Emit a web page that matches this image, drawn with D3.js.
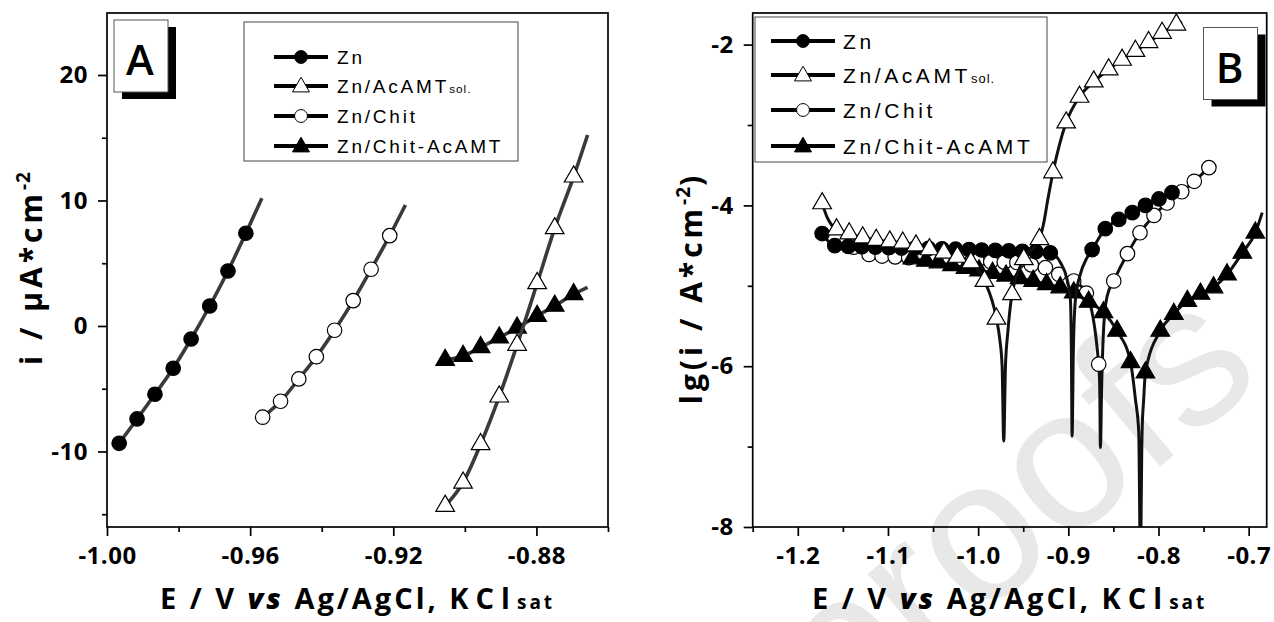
<!DOCTYPE html>
<html>
<head>
<meta charset="utf-8">
<script src="https://cdn.jsdelivr.net/npm/d3@7"></script>
<style>
  body { margin: 0; background: #fff; }
  svg { display: block; }
</style>
</head>
<body>
<svg id="chart" width="1274" height="622"></svg>
<script>
// ---------- Panel A: linear polarisation near Ecorr (E / V, i / µA cm-2) ----------
const znMarksA   = [[-0.9966,-9.35],[-0.9916,-7.41],[-0.9866,-5.44],[-0.9815,-3.37],[-0.9765,-1.04],[-0.9713,1.59],[-0.9662,4.38],[-0.9612,7.39]];
const znTraceA   = [[-0.9567,10.18]];
const solMarksA  = [[-0.9055,-14.34],[-0.9005,-12.49],[-0.8956,-9.43],[-0.8904,-5.63],[-0.8854,-1.51],[-0.8798,3.40],[-0.8749,7.78],[-0.8696,11.90]];
const solTraceA  = [[-0.8657,15.22]];
const chitMarksA = [[-0.9565,-7.27],[-0.9515,-6.00],[-0.9464,-4.22],[-0.9415,-2.45],[-0.9364,-0.34],[-0.9312,2.02],[-0.9262,4.52],[-0.9210,7.20]];
const chitTraceA = [[-0.9166,9.64]];
const caMarksA   = [[-0.9055,-2.71],[-0.9005,-2.39],[-0.8956,-1.70],[-0.8904,-0.93],[-0.8854,-0.14],[-0.8798,0.80],[-0.8749,1.60],[-0.8696,2.53]];
const caTraceA   = [[-0.8657,3.08]];

// ---------- Panel B: Tafel plots (E / V, lg(i / A cm-2)) ----------
const znMarksB = [[-1.173,-4.35],[-1.159,-4.50],[-1.144,-4.51],[-1.129,-4.515],[-1.114,-4.52],[-1.099,-4.525],[-1.085,-4.53],[-1.070,-4.53],[-1.055,-4.535],[-1.040,-4.54],[-1.025,-4.545],[-1.010,-4.55],[-0.996,-4.555],[-0.981,-4.56],[-0.966,-4.565],[-0.951,-4.57],[-0.936,-4.575],[-0.920,-4.59],
  [-0.8736,-4.55],[-0.859,-4.29],[-0.844,-4.175],[-0.829,-4.09],[-0.8145,-4.00],[-0.7995,-3.92],[-0.785,-3.84]];
const znTraceB = [[-0.9088,-4.71],[-0.9014,-4.92],[-0.8977,-5.17],[-0.8966,-5.79],[-0.8958,-6.87],[-0.8944,-5.79],[-0.8921,-5.17],[-0.8873,-4.88],[-0.8792,-4.65],[-0.782,-3.82]];
const solMarksB = [[-1.173,-3.975],[-1.157,-4.30],[-1.143,-4.35],[-1.128,-4.40],[-1.113,-4.43],[-1.098,-4.45],[-1.0836,-4.465],[-1.069,-4.50],[-1.054,-4.547],[-1.038,-4.59],[-1.023,-4.64],[-1.008,-4.71],[-0.993,-4.94],[-0.9797,-5.41],
  [-0.9624,-5.106],[-0.9494,-4.67],[-0.932,-4.42],[-0.917,-3.59],[-0.9024,-2.97],[-0.8876,-2.65],[-0.8718,-2.46],[-0.8552,-2.31],[-0.8404,-2.19],[-0.8256,-2.08],[-0.811,-1.97],[-0.796,-1.855],[-0.7802,-1.752]];
const solTraceB = [[-1.1674,-4.15],[-0.976,-5.665],[-0.9734,-6.00],[-0.9716,-6.93],[-0.9697,-6.00],[-0.9671,-5.58],[-0.9272,-4.215],[-0.9228,-3.93],[-0.7739,-1.72]];
const chitMarksB = [[-1.138,-4.52],[-1.121,-4.61],[-1.1065,-4.63],[-1.092,-4.64],[-1.077,-4.65],[-1.062,-4.655],[-1.047,-4.66],[-1.032,-4.665],[-1.017,-4.675],[-1.001,-4.69],[-0.986,-4.70],[-0.971,-4.705],[-0.957,-4.71],[-0.941,-4.74],[-0.9254,-4.775],[-0.9106,-4.857],[-0.894,-4.94],[-0.880,-5.09],[-0.8663,-5.975],
  [-0.8496,-4.94],[-0.8344,-4.60],[-0.8205,-4.34],[-0.805,-4.125],[-0.7905,-3.97],[-0.7742,-3.83],[-0.7603,-3.70],[-0.7441,-3.53]];
const chitTraceB = [[-0.8652,-6.24],[-0.8644,-7.01],[-0.8630,-6.24],[-0.8607,-5.50],[-0.8570,-5.13]];
const caMarksB = [[-1.073,-4.66],[-1.058,-4.69],[-1.044,-4.71],[-1.029,-4.745],[-1.014,-4.78],[-0.999,-4.81],[-0.984,-4.84],[-0.969,-4.875],[-0.954,-4.905],[-0.939,-4.94],[-0.924,-4.98],[-0.909,-5.02],[-0.894,-5.085],[-0.8775,-5.20],[-0.861,-5.33],[-0.846,-5.56],[-0.831,-5.95],
  [-0.8145,-6.08],[-0.798,-5.56],[-0.783,-5.35],[-0.768,-5.19],[-0.7535,-5.10],[-0.739,-5.02],[-0.724,-4.86],[-0.707,-4.59],[-0.6926,-4.34]];
const caTraceB = [[-0.8256,-6.41],[-0.8219,-6.82],[-0.8201,-8.40],[-0.8182,-6.82],[-0.8164,-6.41],[-0.685,-4.09]];

// ---------- axes ----------
const xTicksA = [-1.00, -0.96, -0.92, -0.88];
const xMinorA = [-0.98, -0.94, -0.90, -0.86];
const yTicksA = [-10, 0, 10, 20];
const yMinorA = [-15, -5, 5, 15];
const xTicksB = [-1.2, -1.1, -1.0, -0.9, -0.8, -0.7];
const xMinorB = [-1.25, -1.15, -1.05, -0.95, -0.85, -0.75];
const yTicksB = [-8, -6, -4, -2];
const yMinorB = [-7, -5, -3];

const seriesNames = ["Zn", "Zn/AcAMT", "Zn/Chit", "Zn/Chit-AcAMT"];

const svg = d3.select("#chart");
const TICK_FONT = "'Open Sans', 'DejaVu Sans', sans-serif";
const LEG_FONT = "'Liberation Sans', Arial, sans-serif";

const symCircle = d3.symbol().type(d3.symbolCircle).size(165);
const symTri = d3.symbol().type(d3.symbolTriangle).size(150);
const legCircle = d3.symbol().type(d3.symbolCircle).size(130);
const legTri = d3.symbol().type(d3.symbolTriangle).size(125);

const styles = {
  "Zn":            { shape: "circle", fill: "#000" },
  "Zn/AcAMT":      { shape: "tri",    fill: "#fff" },
  "Zn/Chit":       { shape: "circle", fill: "#fff" },
  "Zn/Chit-AcAMT": { shape: "tri",    fill: "#000" }
};

// light watermark lettering behind panel B
svg.append("text")
  .attr("transform", "translate(840,735) rotate(-40)")
  .attr("font-family", LEG_FONT)
  .attr("font-size", 200)
  .attr("fill", "#e8e8e8")
  .text("proofs");

function drawPanel(p) {
  const g = svg.append("g");
  const x = d3.scaleLinear().domain(p.xDomain).range([p.left, p.right]);
  const y = d3.scaleLinear().domain(p.yDomain).range([p.bottom, p.top]);

  const clipId = "clip" + p.id;
  svg.append("defs").append("clipPath").attr("id", clipId)
    .append("rect").attr("x", p.left).attr("y", p.top)
    .attr("width", p.right - p.left).attr("height", p.bottom - p.top);

  // label box with shadow
  g.append("rect").attr("x", p.box[0] + 8).attr("y", p.box[1] + 7)
    .attr("width", 54).attr("height", 72).attr("fill", "#000");
  g.append("rect").attr("x", p.box[0]).attr("y", p.box[1])
    .attr("width", 54).attr("height", 72).attr("fill", "#fff")
    .attr("stroke", "#555").attr("stroke-width", 1);
  g.append("text").attr("x", p.box[0] + 26).attr("y", p.box[1] + 55)
    .attr("text-anchor", "middle").attr("font-family", TICK_FONT)
    .attr("font-weight", 600).attr("font-size", 42).text(p.id);

  // legend
  const L = p.legend;
  g.append("rect").attr("x", L.x).attr("y", L.y).attr("width", L.w).attr("height", L.h)
    .attr("fill", "#fff").attr("stroke", "#444").attr("stroke-width", 1);
  seriesNames.forEach((name, i) => {
    const ry = L.rows[i];
    const st = styles[name];
    g.append("line").attr("x1", L.l1).attr("x2", L.l2).attr("y1", ry).attr("y2", ry)
      .attr("stroke", "#000").attr("stroke-width", 4);
    g.append("path")
      .attr("d", st.shape === "circle" ? legCircle() : legTri())
      .attr("transform", `translate(${(L.l1 + L.l2) / 2},${ry + (st.shape === "tri" ? 1 : 0)})`)
      .attr("fill", st.fill).attr("stroke", "#000").attr("stroke-width", 1);
    const t = g.append("text").attr("x", L.tx).attr("y", ry + L.fs * 0.36)
      .attr("font-family", LEG_FONT).attr("font-size", L.fs)
      .attr("letter-spacing", L.ls);
    t.append("tspan").text(name);
    if (name === "Zn/AcAMT") {
      t.append("tspan").attr("font-size", L.fs * 0.62).attr("letter-spacing", 1).text("sol.");
    }
  });

  // series: line then markers
  const line = d3.line().x(d => x(d[0])).y(d => y(d[1])).curve(d3.curveMonotoneX);
  const plot = g.append("g").attr("clip-path", `url(#${clipId})`);
  p.series.forEach(s => {
    const pts = s.marks.concat(s.trace).sort((a, b) => a[0] - b[0]);
    plot.append("path").attr("d", line(pts)).attr("fill", "none")
      .attr("stroke", p.lineColor).attr("stroke-width", p.lineWidth)
      .attr("stroke-linejoin", "round");
    const st = styles[s.name];
    plot.selectAll(null).data(s.marks).enter().append("path")
      .attr("d", st.shape === "circle" ? symCircle() : symTri())
      .attr("transform", d => `translate(${x(d[0])},${y(d[1])})`)
      .attr("fill", st.fill).attr("stroke", "#000").attr("stroke-width", 1.2);
  });

  // frame
  g.append("rect").attr("x", p.left).attr("y", p.top)
    .attr("width", p.right - p.left).attr("height", p.bottom - p.top)
    .attr("fill", "none").attr("stroke", "#000").attr("stroke-width", 1.7);

  // axes
  const styleAxis = sel => {
    sel.select(".domain").remove();
    sel.selectAll(".tick line").attr("stroke", "#000").attr("stroke-width", 1.7);
    sel.selectAll("text").attr("font-family", TICK_FONT).attr("font-size", 24)
      .attr("font-weight", 700).attr("fill", "#000").attr("letter-spacing", 0.5);
  };
  g.append("g").attr("transform", `translate(0,${p.bottom})`)
    .call(d3.axisBottom(x).tickValues(p.xTicks).tickSize(9).tickPadding(11).tickFormat(p.xFmt))
    .call(styleAxis);
  g.append("g").attr("transform", `translate(0,${p.bottom})`)
    .call(d3.axisBottom(x).tickValues(p.xMinor).tickSize(5).tickFormat(""))
    .call(styleAxis);
  g.append("g").attr("transform", `translate(${p.left},0)`)
    .call(d3.axisLeft(y).tickValues(p.yTicks).tickSize(9).tickPadding(10).tickFormat(d3.format("d")))
    .call(styleAxis);
  g.append("g").attr("transform", `translate(${p.left},0)`)
    .call(d3.axisLeft(y).tickValues(p.yMinor).tickSize(5).tickFormat(""))
    .call(styleAxis);
  g.selectAll(".tick text").each(function () {
    const s = d3.select(this); s.text(s.text().replace("−", "-"));
  });

  // x title
  const xt = g.append("text").attr("x", (p.left + p.right) / 2).attr("y", 609)
    .attr("text-anchor", "middle").attr("font-family", TICK_FONT)
    .attr("font-size", 29).attr("font-weight", 700).attr("letter-spacing", 3);
  xt.append("tspan").text("E / V ");
  xt.append("tspan").attr("font-style", "italic").attr("font-weight", 800).text("vs");
  xt.append("tspan").text(" Ag/AgCl, ");
  xt.append("tspan").attr("letter-spacing", 7).text("KCl");
  xt.append("tspan").attr("font-size", 19).attr("letter-spacing", 3).text("sat");

  // y title
  const yt = g.append("text")
    .attr("transform", `translate(${p.yTitleX},${p.yTitleY}) rotate(-90)`)
    .attr("text-anchor", "middle").attr("font-family", TICK_FONT)
    .attr("font-size", 30).attr("font-weight", 700).attr("letter-spacing", 4);
  yt.append("tspan").text(p.yTitle[0]);
  yt.append("tspan").attr("font-size", 19).attr("dy", -12).attr("letter-spacing", 1).text("-2");
  if (p.yTitle[1]) yt.append("tspan").attr("dy", 12).text(p.yTitle[1]);
}

drawPanel({
  id: "A", left: 107, right: 608, top: 13, bottom: 527,
  xDomain: [-1.00, -0.86], yDomain: [-16.02, 24.94],
  xTicks: xTicksA, xMinor: xMinorA, yTicks: yTicksA, yMinor: yMinorA,
  xFmt: d3.format(".2f"),
  box: [114, 20],
  legend: { x: 244, y: 22, w: 274, h: 139, rows: [57, 86, 116, 146], l1: 274, l2: 328, tx: 337, fs: 19, ls: 2.8 },
  lineColor: "#3a3a3a", lineWidth: 3.6,
  series: [
    { name: "Zn", marks: znMarksA, trace: znTraceA },
    { name: "Zn/Chit", marks: chitMarksA, trace: chitTraceA },
    { name: "Zn/Chit-AcAMT", marks: caMarksA, trace: caTraceA },
    { name: "Zn/AcAMT", marks: solMarksA, trace: solTraceA }
  ],
  yTitle: ["i / µA*cm", ""], yTitleX: 42, yTitleY: 268
});

drawPanel({
  id: "B", left: 752.7, right: 1266.7, top: 13, bottom: 527,
  xDomain: [-1.25, -0.68], yDomain: [-8, -1.607],
  xTicks: xTicksB, xMinor: xMinorB, yTicks: yTicksB, yMinor: yMinorB,
  xFmt: d3.format(".1f"),
  box: [1203.5, 27.5],
  legend: { x: 755, y: 17, w: 292, h: 145, rows: [41, 75, 110, 146], l1: 771, l2: 835, tx: 843, fs: 21, ls: 3.6 },
  lineColor: "#111", lineWidth: 3,
  series: [
    { name: "Zn/Chit", marks: chitMarksB, trace: chitTraceB },
    { name: "Zn/Chit-AcAMT", marks: caMarksB, trace: caTraceB },
    { name: "Zn", marks: znMarksB, trace: znTraceB },
    { name: "Zn/AcAMT", marks: solMarksB, trace: solTraceB }
  ],
  yTitle: ["lg(i / A*cm", ")"], yTitleX: 702, yTitleY: 288
});
</script>
</body>
</html>
